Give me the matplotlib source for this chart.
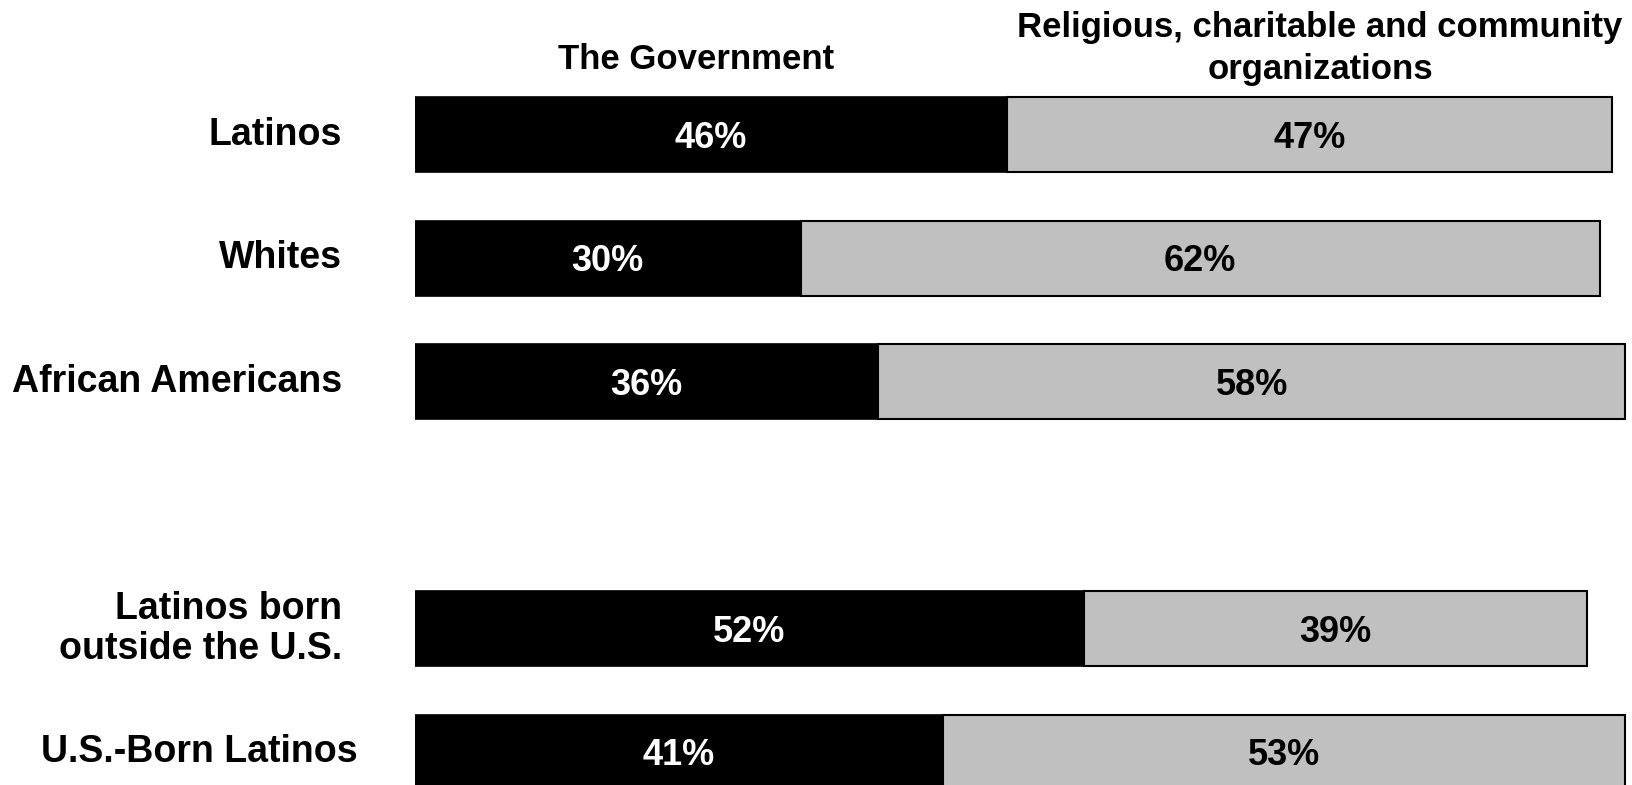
import matplotlib

matplotlib.use("Agg")

import matplotlib.pyplot as plt
import numpy as np

plt.rcParams["font.family"] = ["Liberation Sans", "DejaVu Sans"]
plt.rcParams["font.weight"] = "bold"

categories = [
    "Latinos",
    "Whites",
    "African Americans",
    "Latinos born\noutside the U.S.",
    "U.S.-Born Latinos",
]
slots = [0, 1, 2, 4, 5]
government = [46, 30, 36, 52, 41]
religious = [47, 62, 58, 39, 53]
headers = ["The Government", "Religious, charitable and community\norganizations"]

fig = plt.figure(figsize=(16.33, 7.85), dpi=100)
ax = fig.add_axes([0.2539, 0.0, 0.7461, 1.0])

y = np.array(slots, dtype=float)
gov = np.array(government, dtype=float)
rel = np.array(religious, dtype=float)
h = 0.605

ax.barh(y, gov, height=h, color="black", edgecolor="black", linewidth=1.2)
ax.barh(y, rel, left=gov, height=h, color="#c0c0c0", edgecolor="black", linewidth=1.5)

for yi, g, r in zip(y, gov, rel):
    ax.text(g / 2, yi + 0.03, f"{int(g)}%", color="white", ha="center", va="center",
            fontsize=26, fontweight="bold")
    ax.text(g + r / 2, yi + 0.03, f"{int(r)}%", color="black", ha="center", va="center",
            fontsize=26, fontweight="bold")

# category labels on the left, right aligned
for yi, lab in zip(y, categories):
    xoff = -4.4 if lab.startswith("U.S.-Born") else -5.65
    ax.text(xoff, yi, lab, ha="right", va="center", fontsize=27,
            fontweight="bold", linespacing=1.15, clip_on=False)

# column headers
ax.text(21.85, -0.61, headers[0], ha="center", va="center", fontsize=25,
        fontweight="bold", clip_on=False)
ax.text(70.3, -0.70, headers[1], ha="center", va="center", fontsize=25,
        fontweight="bold", linespacing=1.35, clip_on=False)

ax.set_xlim(0, 94.6)
ax.set_ylim(5.266, -1.091)
ax.axis("off")

fig.savefig("out.png", dpi=100)
